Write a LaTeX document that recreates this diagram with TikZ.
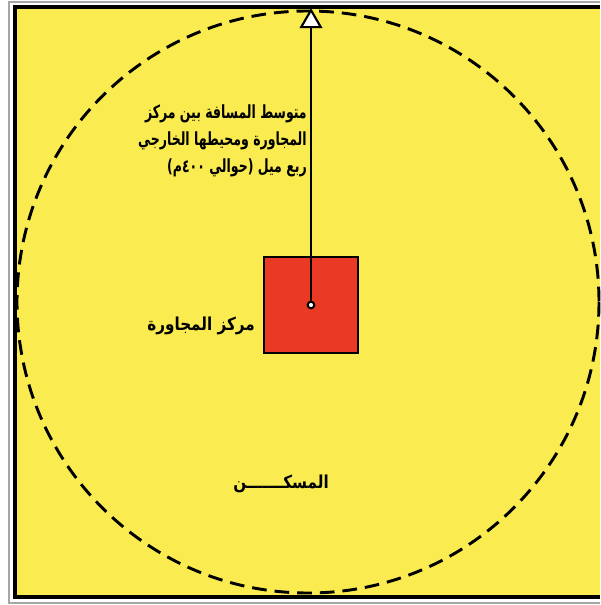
\documentclass[tikz,border=0pt]{standalone}
\usepackage{fontspec}
\usetikzlibrary{shapes.geometric}
\newfontfamily\arabicfont[Script=Arabic, FakeStretch=0.69]{DejaVu Sans}
\newfontfamily\arabicwide[Script=Arabic, FakeStretch=0.85]{DejaVu Sans}
\TeXXeTstate=1
\definecolor{bgyellow}{RGB}{250,236,80}
\definecolor{boxred}{RGB}{234,58,38}
\begin{document}
\begin{tikzpicture}[x=0.75pt,y=-0.75pt,
  arlabel/.style={font=\arabicfont\bfseries\fontsize{13.6}{20.6}\selectfont, inner sep=0pt, text=black},
  arlabelw/.style={font=\arabicwide\bfseries\fontsize{13.4}{20.6}\selectfont, inner sep=0pt, text=black},
  ring/.style={draw=black, line width=2.2pt, dash pattern=on 11pt off 6pt},
  frameline/.style={draw=black, line width=2.4pt}]
\useasboundingbox (0,0) rectangle (600,605);
\fill[white] (0,0) rectangle (600,605);
% outer thin gray frame
\draw[gray!70, line width=0.8pt] (600,2) -- (9,2) -- (9,603) -- (600,603);
% yellow field
\fill[bgyellow] (15,7) rectangle (600,597);
\draw[frameline] (600,7) -- (15,7) -- (15,597) -- (600,597);
% neighbourhood boundary
\draw[ring] (308,302) circle[radius=291];
% centre square
\node[draw=black, line width=2.2pt, fill=boxred, minimum width=70.5pt, minimum height=72pt, inner sep=0pt] (sq) at (311,305) {};
\node[circle, draw=black, line width=1.5pt, fill=white, minimum size=5pt, inner sep=0pt] (dot) at (311,305) {};
\node[regular polygon, regular polygon sides=3, draw=black, line width=1.6pt, fill=white, minimum size=17pt, inner sep=0pt] (tri) at (311,21.5) {};
\draw[black, line width=1.3pt] (dot.north) -- (tri.side 2);
% labels
\node[arlabel, align=right, anchor=north east] (dist) at (307,104)
  {\beginR متوسط المسافة بين مركز\endR\\ \beginR المجاورة ومحيطها الخارجي\endR\\ \beginR ربع ميل (حوالي ٤٠٠م)\endR};
\node[arlabelw, anchor=east] (ctr) at (255,326) {\beginR مركز المجاورة\endR};
\node[arlabelw, anchor=center] (home) at (281,484) {\beginR المسكـــــــن\endR};
\end{tikzpicture}
\end{document}
